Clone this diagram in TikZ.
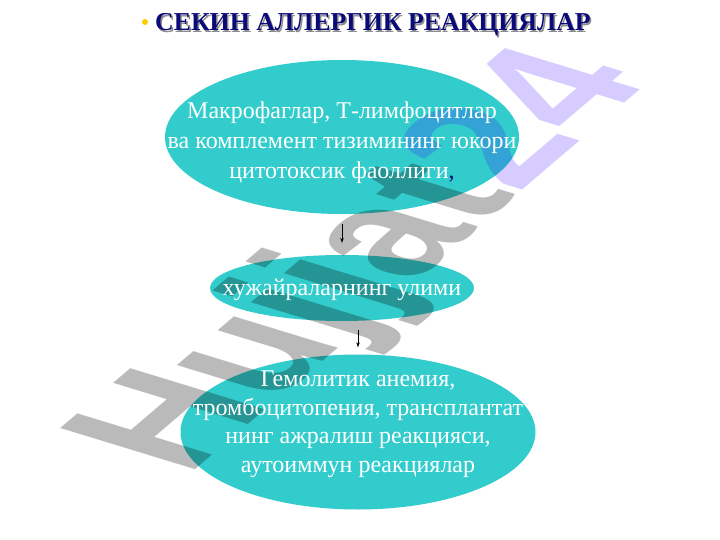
\documentclass[tikz,border=0pt]{standalone}
\usepackage{fontspec}
\setmainfont{Liberation Serif}
\newfontfamily\wmfont{Liberation Sans}
\usetikzlibrary{shapes.geometric,calc,arrows.meta}
\definecolor{teal1}{RGB}{51,204,204}
\definecolor{navy1}{RGB}{10,10,120}
\definecolor{bul}{RGB}{255,204,0}
\definecolor{wmpurple}{rgb}{0.2,0,1}
\tikzset{
  oval/.style={ellipse, fill=teal1, draw=none, inner sep=0pt},
  ovaltext/.style={align=center, text=white, font=\fontsize{24}{30}\selectfont},
  flow/.style={-{Stealth[length=5pt,width=3.5pt]}, line width=0.6pt, black},
}
\begin{document}
\begin{tikzpicture}[x=1pt,y=-1pt]
\fill[white] (0,0) rectangle (720,540);
\useasboundingbox (0,0) rectangle (720,540);
% title
\fill[bul] (145,22) circle (3);
\node[anchor=base west, inner sep=0, text=black!45, font=\fontsize{25.8}{30}\bfseries\selectfont] at (156.5,32.5) {СЕКИН АЛЛЕРГИК РЕАКЦИЯЛАР};
\node[anchor=base west, inner sep=0, text=navy1, font=\fontsize{25.8}{30}\bfseries\selectfont] (title) at (155,31) {СЕКИН АЛЛЕРГИК РЕАКЦИЯЛАР};
% ovals
\node[oval, minimum width=354pt, minimum height=154pt] (e1) at (342,137) {};
\node[oval, minimum width=264pt, minimum height=66pt] (e2) at (342,288) {};
\node[oval, minimum width=355pt, minimum height=155pt] (e3) at (358,432) {};
% arrows
\draw[flow] ($(e1.south)+(0,10)$) -- ($(e2.north)+(0,-12)$);
\draw[flow] ($(e2.south -| e3.north)+(0,9)$) -- ($(e3.north)+(0,-7)$);
% watermark
\begin{scope}[cm={1.192,1.018,-1.96,0.599,(187,477)}]
\node[transform shape, anchor=base west, inner sep=0, text=black, text opacity=0.27, font=\wmfont\fontsize{100}{100}\bfseries\selectfont] (w1) at (0,0) {Hujjat};
\node[transform shape, anchor=base west, inner sep=0, text=wmpurple, text opacity=0.2, font=\wmfont\fontsize{100}{100}\bfseries\selectfont] (w2) at (w1.base east) {24};
\end{scope}
% texts
\node[ovaltext] (t1) at ($(e1)+(0,6)$) {Макрофаглар, Т-лимфоцитлар\\ва комплемент тизимининг юкори\\цитотоксик фаоллиги\textcolor{navy1}{,}};
\node[ovaltext] (t2) at ($(e2)+(0,2)$) {хужайраларнинг улими};
\node[ovaltext, font=\fontsize{24}{28.5}\selectfont] (t3) at ($(e3)+(0,-8)$) {Гемолитик анемия,\\тромбоцитопения, трансплантат\\нинг ажралиш реакцияси,\\аутоиммун реакциялар};
\end{tikzpicture}
\end{document}
